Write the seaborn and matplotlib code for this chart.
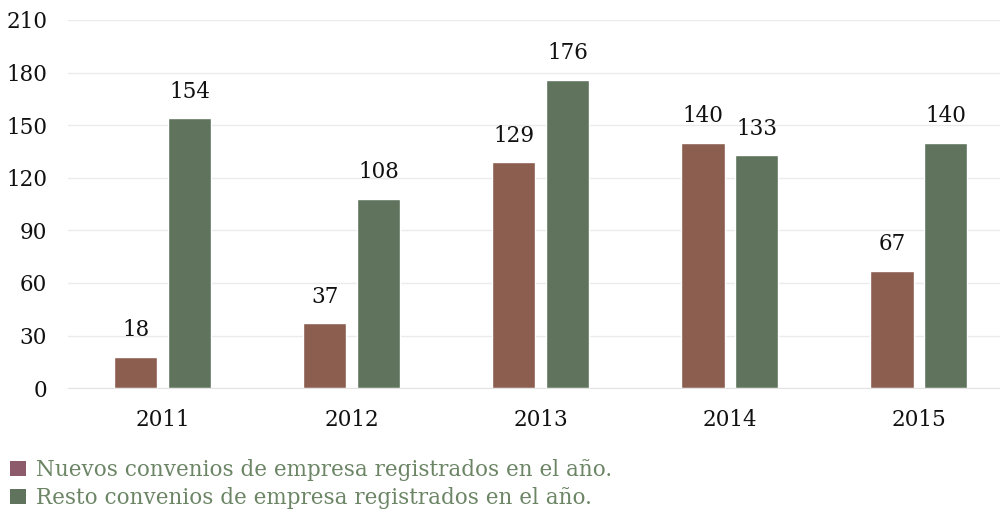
import pandas as pd
import numpy as np
import matplotlib.pyplot as plt
import seaborn as sns
from matplotlib.patches import Patch

# Data
years = ['2011', '2012', '2013', '2014', '2015']
nuevos = [18, 37, 129, 140, 67]
resto = [154, 108, 176, 133, 140]
series_names = ['Nuevos convenios de empresa registrados en el año.',
                'Resto convenios de empresa registrados en el año.']

df = pd.DataFrame({
    'year': years * 2,
    'serie': [series_names[0]] * len(years) + [series_names[1]] * len(years),
    'value': nuevos + resto,
})

sns.set_style('white')
plt.rcParams['font.family'] = ['DejaVu Serif']

fig = plt.figure(figsize=(10, 5.12), dpi=100)
ax = fig.add_axes([0.068, 0.242, 0.932, 0.719])

bar_colors = ['#8b5e4f', '#5f735d']
sns.barplot(data=df, x='year', y='value', hue='serie', palette=bar_colors,
            width=0.57, gap=0.19, ax=ax, legend=False, saturation=1)

for cont in ax.containers:
    ax.bar_label(cont, labels=[f'{int(v)}' for v in cont.datavalues],
                 padding=11, fontsize=15.5, color='#111111')

ax.set_ylim(0, 210)
ax.set_xlim(-0.5, 4.43)
ax.set_yticks(np.arange(0, 211, 30))
ax.yaxis.grid(True, color='#ebebeb', linewidth=1)
ax.set_axisbelow(True)
for s in ['top', 'right', 'left']:
    ax.spines[s].set_visible(False)
ax.spines['bottom'].set_color('#e3e3e3')
ax.tick_params(axis='y', length=0, pad=15, labelsize=15.5, labelcolor='#111111')
ax.tick_params(axis='x', length=0, pad=15, labelsize=15.5, labelcolor='#111111')
ax.set_xlabel('')
ax.set_ylabel('')
for t in ax.get_yticklabels():
    t.set_clip_on(False)

handles = [Patch(facecolor='#8c5a6a', edgecolor='none'),
           Patch(facecolor='#5f735d', edgecolor='none')]
leg = fig.legend(handles, series_names, loc='upper left', bbox_to_anchor=(0.006, 0.112),
                 frameon=False, fontsize=15.5, handlelength=0.75, handleheight=0.75,
                 handletextpad=0.45, labelspacing=0.28, borderaxespad=0, borderpad=0.2)
for t in leg.get_texts():
    t.set_color('#6b8565')

fig.savefig('out.png', dpi=100)
